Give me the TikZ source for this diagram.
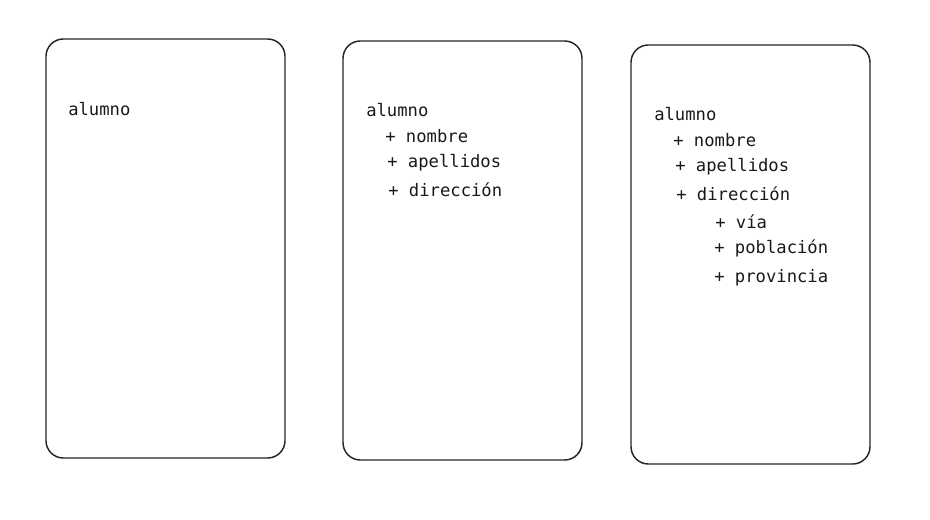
\documentclass[tikz,border=0pt]{standalone}
\usepackage{fontspec}
\setmonofont{DejaVu Sans Mono}
\begin{document}
\begin{tikzpicture}[x=0.75pt,y=-0.75pt,
  card/.style={draw=black!85, line width=1.1pt, rounded corners=13pt},
  lbl/.style={anchor=west, inner sep=0pt, font=\ttfamily\fontsize{12.9pt}{15pt}\selectfont, text=black!90}]
\useasboundingbox (0,0) rectangle (930,520);
% cards
\draw[card] (46,39) rectangle (285,458);
\draw[card] (343,41) rectangle (582,460);
\draw[card] (631,45) rectangle (870,464);
% card 1
\node[lbl] (a1) at (68,109) {alumno};
% card 2
\node[lbl] (a2) at (366,110) {alumno};
\node[lbl] (n2) at (385,136) {+ nombre};
\node[lbl] (p2) at (387,163) {+ apellidos};
\node[lbl] (d2) at (388,190) {+ dirección};
% card 3
\node[lbl] (a3) at (654,114) {alumno};
\node[lbl] (n3) at (673,140) {+ nombre};
\node[lbl] (p3) at (675,167) {+ apellidos};
\node[lbl] (d3) at (676,194) {+ dirección};
\node[lbl] (v3) at (715,222) {+ vía};
\node[lbl] (po3) at (714,248) {+ población};
\node[lbl] (pr3) at (714,278) {+ provincia};
\end{tikzpicture}
\end{document}
